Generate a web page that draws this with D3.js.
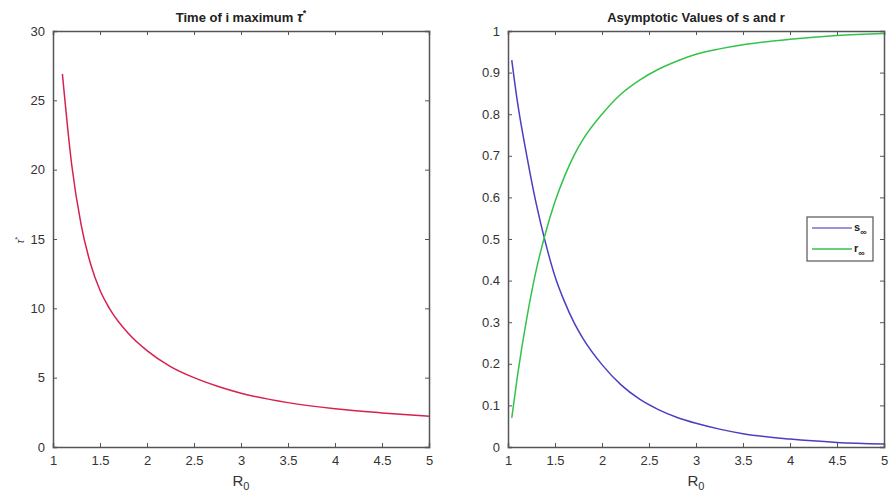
<!DOCTYPE html>
<html>
<head>
<meta charset="utf-8">
<script src="https://cdn.jsdelivr.net/npm/d3@7"></script>
<style>
  body { margin: 0; background: #fff; }
  svg { display: block; font-family: "Liberation Sans", Arial, sans-serif; }
  .tick text { fill: #333; font-size: 13px; }
  .axis path, .axis line { stroke: #555; }
</style>
</head>
<body>
<div id="chart"></div>
<script>
// left panel: time of i maximum vs R0
var tauR0 = [1.1, 1.2, 1.3, 1.4, 1.5, 1.6, 1.8, 2.0, 2.25, 2.5, 2.75, 3.0, 3.5, 4.0, 4.5, 5.0];
var tauVals = [26.9, 20.3, 16.0, 13.2, 11.3, 10.0, 8.2, 6.95, 5.8, 5.0, 4.38, 3.88, 3.2, 2.76, 2.46, 2.22];

// right panel: asymptotic s and r vs R0
var asyR0 = [1.04, 1.1, 1.2, 1.3, 1.4, 1.5, 1.6, 1.7, 1.8, 2.0, 2.2, 2.4, 2.6, 2.8, 3.0, 3.25, 3.5, 4.0, 4.5, 5.0];
var sInf = [0.93, 0.83, 0.70, 0.585, 0.49, 0.41, 0.35, 0.30, 0.26, 0.198, 0.15, 0.115, 0.09, 0.071, 0.057, 0.043, 0.032, 0.019, 0.011, 0.007];
var rInf = [0.07, 0.17, 0.31, 0.425, 0.515, 0.59, 0.65, 0.70, 0.74, 0.80, 0.848, 0.882, 0.908, 0.928, 0.944, 0.957, 0.967, 0.98, 0.989, 0.994];

var xTicks = [1, 1.5, 2, 2.5, 3, 3.5, 4, 4.5, 5];
var tauTicks = [0, 5, 10, 15, 20, 25, 30];
var asyTicks = [0, 0.1, 0.2, 0.3, 0.4, 0.5, 0.6, 0.7, 0.8, 0.9, 1];

var W = 891, H = 495;
var plotTop = 31, plotBottom = 447;

var svg = d3.select("#chart").append("svg")
    .attr("width", W)
    .attr("height", H);

function panel(x0, x1, yDomain, yTicks) {
    var x = d3.scaleLinear().domain([1, 5]).range([x0, x1]);
    var y = d3.scaleLinear().domain(yDomain).range([plotBottom, plotTop]);
    var g = svg.append("g");

    var fmt = function (d) { return String(+d.toFixed(1)); };

    g.append("g").attr("class", "axis")
        .attr("transform", "translate(0," + plotBottom + ")")
        .call(d3.axisBottom(x).tickValues(xTicks).tickSize(-4).tickPadding(9).tickFormat(fmt));
    g.append("g").attr("class", "axis")
        .attr("transform", "translate(0," + plotTop + ")")
        .call(d3.axisTop(x).tickValues(xTicks).tickSize(-4).tickFormat(""));
    g.append("g").attr("class", "axis")
        .attr("transform", "translate(" + x0 + ",0)")
        .call(d3.axisLeft(y).tickValues(yTicks).tickSize(-4).tickPadding(8).tickFormat(fmt));
    g.append("g").attr("class", "axis")
        .attr("transform", "translate(" + x1 + ",0)")
        .call(d3.axisRight(y).tickValues(yTicks).tickSize(-4).tickFormat(""));

    g.selectAll(".axis path").attr("stroke-width", 1.5);

    // R0 x label
    var xl = g.append("text")
        .attr("x", (x0 + x1) / 2)
        .attr("y", 486)
        .attr("text-anchor", "middle")
        .attr("fill", "#333")
        .style("font-size", "15px");
    xl.append("tspan").text("R");
    xl.append("tspan").attr("dy", 4).style("font-size", "11px").text("0");

    return { x: x, y: y, g: g };
}

// left panel
var p1 = panel(53, 429, [0, 30], tauTicks);
var line1 = d3.line()
    .x(function (d, i) { return p1.x(tauR0[i]); })
    .y(function (d) { return p1.y(d); })
    .curve(d3.curveMonotoneX);
p1.g.append("path")
    .attr("d", line1(tauVals))
    .attr("fill", "none")
    .attr("stroke", "#d8204e")
    .attr("stroke-width", 1.5);

var t1 = p1.g.append("text")
    .attr("x", 241).attr("y", 22)
    .attr("text-anchor", "middle")
    .attr("fill", "#222")
    .style("font-size", "13px")
    .style("font-weight", "bold");
t1.append("tspan").text("Time of i maximum ");
t1.append("tspan").style("font-style", "italic").style("font-size", "14px").text("τ");
t1.append("tspan").attr("dy", -6).style("font-size", "9px").text("*");

var yl = p1.g.append("text")
    .attr("transform", "translate(24,240) rotate(-90)")
    .attr("text-anchor", "middle")
    .attr("fill", "#444")
    .style("font-size", "10px");
yl.append("tspan").style("font-style", "italic").text("τ");
yl.append("tspan").attr("dy", -4).style("font-size", "8px").text("*");

// right panel
var p2 = panel(508, 884, [0, 1], asyTicks);
var line2 = d3.line()
    .x(function (d, i) { return p2.x(asyR0[i]); })
    .y(function (d) { return p2.y(d); })
    .curve(d3.curveMonotoneX);
p2.g.append("path")
    .attr("d", line2(sInf))
    .attr("fill", "none")
    .attr("stroke", "#4a3fc0")
    .attr("stroke-width", 1.5);
p2.g.append("path")
    .attr("d", line2(rInf))
    .attr("fill", "none")
    .attr("stroke", "#33c24a")
    .attr("stroke-width", 1.5);

p2.g.append("text")
    .attr("x", 696).attr("y", 22)
    .attr("text-anchor", "middle")
    .attr("fill", "#222")
    .style("font-size", "13px")
    .style("font-weight", "bold")
    .text("Asymptotic Values of s and r");

// legend
var legend = [
    { name: "s", color: "#7a6fd0" },
    { name: "r", color: "#33c24a" }
];
var lg = p2.g.append("g").attr("transform", "translate(807,217)");
lg.append("rect")
    .attr("width", 66).attr("height", 44)
    .attr("fill", "#fff")
    .attr("stroke", "#555")
    .attr("stroke-width", 1.2);
legend.forEach(function (d, i) {
    var yy = 11 + i * 21;
    lg.append("line")
        .attr("x1", 5).attr("x2", 45)
        .attr("y1", yy).attr("y2", yy)
        .attr("stroke", d.color)
        .attr("stroke-width", 1.5);
    var tx = lg.append("text")
        .attr("x", 47).attr("y", yy + 3)
        .attr("fill", "#222")
        .style("font-size", "11px")
        .style("font-weight", "bold");
    tx.append("tspan").text(d.name);
    tx.append("tspan").attr("dy", 4).style("font-size", "9px").text("∞");
});
</script>
</body>
</html>
